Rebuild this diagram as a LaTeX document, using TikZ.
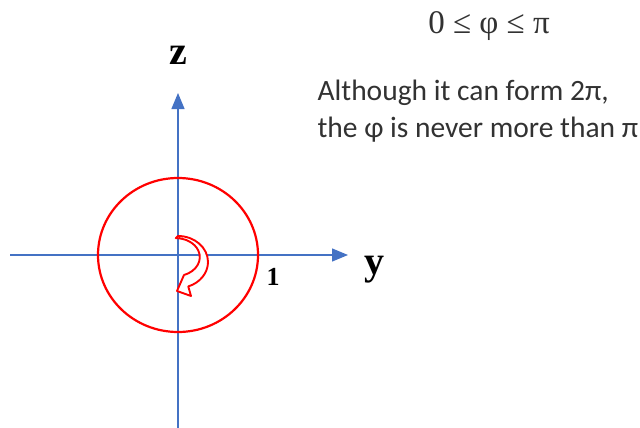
\documentclass[tikz,border=0pt]{standalone}
\usepackage{fontspec}
\setmainfont{Carlito}
\newfontfamily\formulafont{Liberation Serif}
\usetikzlibrary{arrows.meta}
\definecolor{axisblue}{RGB}{68,114,196}
\definecolor{notegray}{RGB}{50,50,50}

\begin{document}
\begin{tikzpicture}[
  x=1pt, y=-1pt,
  axis/.style={draw=axisblue, line width=1.3pt,
               -{Triangle[length=16pt, width=13pt]}},
  axislabel/.style={font=\formulafont\fontsize{40}{40}\selectfont\bfseries},
  unitcircle/.style={draw=red, line width=2.2pt},
  turnarrow/.style={draw=red, line width=1.9pt, fill=white, line join=round},
  note/.style={align=left, font=\fontsize{29.5}{37}\selectfont, text=notegray}
]
\useasboundingbox (0,0) rectangle (640,428);

\coordinate (origin) at (178,255);
\coordinate (yleft) at (10,255);
\coordinate (yright) at (348,255);
\coordinate (zbottom) at (178,428);
\coordinate (ztop) at (178,93);

\draw[axis] (yleft) -- (yright);
\draw[axis] (zbottom) -- (ztop);
\draw[unitcircle] (origin) ellipse[x radius=80, y radius=77];

\node[axislabel, anchor=base] (zlabel) at (178,64) {z};
\node[axislabel, anchor=base] (ylabel) at (374,274) {y};
\node[anchor=base, font=\formulafont\fontsize{26}{26}\selectfont\bfseries]
  (one) at (273,285) {1};

\draw[turnarrow] (178,236) arc[start angle=-90, end angle=70, x radius=30, y radius=26]
  -- (191,296) -- (177,291) -- (184,275)
  arc[start angle=70, end angle=-90, x radius=24, y radius=19] -- cycle;

\node[anchor=base, font=\formulafont\fontsize{33}{33}\selectfont, text=notegray]
  (range) at (489,34) {0 ≤ φ ≤ π};
\node[note, anchor=base west] (remark) at (314,137)
  {Although it can form 2π,\\the φ is never more than π};
\end{tikzpicture}
\end{document}
